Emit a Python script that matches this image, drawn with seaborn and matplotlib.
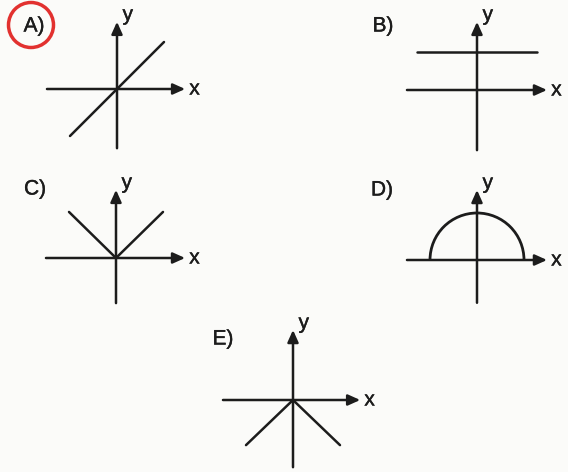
import matplotlib
matplotlib.use("Agg")
import matplotlib.pyplot as plt
import matplotlib.patheffects as pe
import seaborn as sns
import pandas as pd
from matplotlib.patches import Arc, Ellipse

# Data (in units of the graph, 1 unit ~ 47 px)
labels = ["A)", "B)", "C)", "D)", "E)"]
a_x = [-1, 1]
a_y = [-1, 1]
b_x = [-1.28, 1.28]
b_y = [0.81, 0.81]
c_x = [-1, 0, 1]
c_y = [0.98, 0, 0.98]
d_radius = 1.0
e_x = [-1, 0, 1]
e_y = [-0.96, 0, -0.96]

sns.set_theme(style="white")
plt.rcParams['font.family'] = ['Liberation Sans', 'DejaVu Sans']

W, H = 568, 472
U = 47.0
INK = "#1c1c1c"
LW = 1.8
bold = [pe.withStroke(linewidth=0.3, foreground=INK)]

fig = plt.figure(figsize=(W / 100, H / 100), dpi=100)
fig.patch.set_facecolor("#fbfbf9")

# layout: origin in pixels, axis extents (xmin, xmax, ymin, ymax) in units
layout = {
    "A)": ((117, 89), (-1.49, 1.45, -1.26, 1.43)),
    "B)": ((477, 90), (-1.49, 1.49, -1.28, 1.45)),
    "C)": ((116, 258), (-1.49, 1.47, -0.96, 1.45)),
    "D)": ((477, 260), (-1.49, 1.49, -0.91, 1.49)),
    "E)": ((293, 400), (-1.49, 1.43, -1.43, 1.49)),
}
label_pos = {"A)": (34, 26), "B)": (383, 26), "C)": (35, 189),
             "D)": (382, 190), "E)": (223, 339)}


def make_axes(key):
    (ox, oy), (x0, x1, y0, y1) = layout[key]
    left = (ox + x0 * U) / W
    bottom = 1 - (oy - y0 * U) / H
    ax = fig.add_axes([left, bottom, (x1 - x0) * U / W, (y1 - y0) * U / H])
    ax.set_xlim(x0, x1)
    ax.set_ylim(y0, y1)
    ax.axis("off")
    arrow = dict(arrowstyle="-|>,head_length=0.6,head_width=0.27",
                 lw=LW, color=INK, mutation_scale=12, shrinkA=0, shrinkB=0)
    ax.annotate("", xy=(x1, 0), xytext=(x0, 0), arrowprops=arrow, annotation_clip=False)
    ax.annotate("", xy=(0, y1), xytext=(0, y0), arrowprops=arrow, annotation_clip=False)
    ax.annotate("x", xy=(x1, 0), xytext=(3, 0), textcoords="offset points",
                ha="left", va="center", fontsize=15, color=INK,
                annotation_clip=False, path_effects=bold)
    ax.annotate("y", xy=(0, y1), xytext=(4, 5), textcoords="offset points",
                ha="left", va="center", fontsize=15, color=INK,
                annotation_clip=False, path_effects=bold)
    lx, ly = label_pos[key]
    fig.text(lx / W, 1 - ly / H, key, ha="center", va="center", fontsize=15,
             color=INK, path_effects=bold)
    return ax


def draw_line(ax, xs, ys):
    df = pd.DataFrame({"x": xs, "y": ys})
    sns.lineplot(data=df, x="x", y="y", ax=ax, color=INK, lw=LW,
                 sort=False, estimator=None, legend=False)
    for ln in ax.lines:
        ln.set_clip_on(False)
    ax.set_xlabel("")
    ax.set_ylabel("")
    ax.axis("off")


ax = make_axes("A)")
draw_line(ax, a_x, a_y)

ax = make_axes("B)")
draw_line(ax, b_x, b_y)

ax = make_axes("C)")
draw_line(ax, c_x, c_y)

ax = make_axes("D)")
ax.add_patch(Arc((0, 0), 2 * d_radius, 2 * d_radius, theta1=0, theta2=180,
                 color=INK, lw=2.0, clip_on=False))

ax = make_axes("E)")
draw_line(ax, e_x, e_y)

# red hand-drawn circle around the answer
fig.patches.append(Ellipse((31 / W, 1 - 25 / H), 45 / W, 45 / H,
                           transform=fig.transFigure, fill=False,
                           edgecolor="#e2312f", lw=2.5))

fig.savefig("out.png", dpi=100, facecolor=fig.get_facecolor())
